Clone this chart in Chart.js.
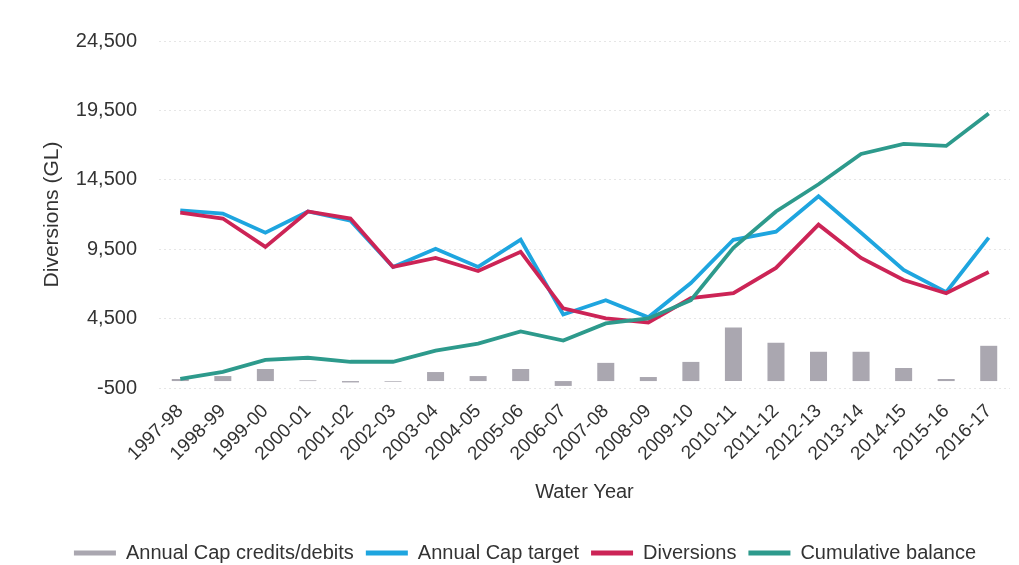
<!DOCTYPE html>
<html>
<head>
<meta charset="utf-8">
<script src="https://cdn.jsdelivr.net/npm/chart.js@4.4.1/dist/chart.umd.min.js"></script>
<style>
  html, body { margin: 0; padding: 0; background: #fff; }
  #wrap { width: 1019px; height: 565px; }
</style>
</head>
<body>
<div id="wrap"><canvas id="capChart" width="1019" height="565"></canvas></div>
<script>
// Water years on the x axis
const waterYears = [
  '1997-98', '1998-99', '1999-00', '2000-01', '2001-02', '2002-03', '2003-04',
  '2004-05', '2005-06', '2006-07', '2007-08', '2008-09', '2009-10', '2010-11',
  '2011-12', '2012-13', '2013-14', '2014-15', '2015-16', '2016-17'
];

// Values (GL)
const capCredits = [150, 360, 870, 50, -100, -50, 650, 360, 870, -350,
  1310, 290, 1380, 3850, 2760, 2110, 2110, 940, 150, 2540];
const capTarget = [12290, 12070, 10690, 12220, 11560, 8220, 9530, 8220, 10180, 4800,
  5820, 4590, 7060, 10180, 10760, 13310, 10690, 8000, 6400, 10330];
const diversions = [12140, 11710, 9670, 12220, 11710, 8220, 8870, 7930, 9310, 5240,
  4510, 4220, 5970, 6330, 8150, 11270, 8870, 7280, 6330, 7860];
const cumulative = [154, 660, 1530, 1680, 1390, 1390, 2190, 2700, 3570, 2920,
  4150, 4510, 5820, 9600, 12220, 14180, 16360, 17090, 16940, 19270];

const yMin = -500;
const yMax = 24500;
const yStep = 5000;

const Chart = window.Chart;
const FONT = "'Liberation Sans', Arial, sans-serif";

function makeChart() {
  const ctx = document.getElementById('capChart').getContext('2d');
  new Chart(ctx, {
    type: 'bar',
    data: {
      labels: waterYears,
      datasets: [
        {
          type: 'bar',
          label: 'Annual Cap credits/debits',
          data: capCredits,
          backgroundColor: '#aaa7b0',
          barPercentage: 0.4,
          categoryPercentage: 1,
          order: 4
        },
        {
          type: 'line',
          label: 'Annual Cap target',
          data: capTarget,
          borderColor: '#1ea5df',
          backgroundColor: '#1ea5df',
          borderWidth: 3.8,
          pointRadius: 0,
          tension: 0,
          order: 3
        },
        {
          type: 'line',
          label: 'Diversions',
          data: diversions,
          borderColor: '#cc2456',
          backgroundColor: '#cc2456',
          borderWidth: 3.8,
          pointRadius: 0,
          tension: 0,
          order: 2
        },
        {
          type: 'line',
          label: 'Cumulative balance',
          data: cumulative,
          borderColor: '#2d9a8c',
          backgroundColor: '#2d9a8c',
          borderWidth: 3.8,
          pointRadius: 0,
          tension: 0,
          order: 1
        }
      ]
    },
    options: {
      responsive: false,
      animation: false,
      layout: { padding: { top: 41, right: 9, bottom: -8, left: 40 } },
      plugins: {
        tooltip: { enabled: false },
        legend: {
          position: 'bottom',
          labels: {
            boxWidth: 42,
            boxHeight: 5,
            padding: 12,
            color: '#333',
            font: { family: FONT, size: 20 },
            sort: (a, b) => a.datasetIndex - b.datasetIndex,
            generateLabels: function(chart) {
              const items = Chart.defaults.plugins.legend.labels.generateLabels(chart);
              items.forEach(it => { it.lineWidth = 0; });
              return items;
            }
          }
        }
      },
      scales: {
        x: {
          grid: { display: false, drawTicks: false },
          border: { display: false },
          ticks: {
            color: '#333',
            maxRotation: 45,
            minRotation: 45,
            padding: 12,
            font: { family: FONT, size: 19 }
          },
          title: {
            display: true,
            text: 'Water Year',
            color: '#333',
            padding: { top: 6, bottom: 27 },
            font: { family: FONT, size: 20 }
          },
          afterFit: function(scale) { scale.height = 143; }
        },
        y: {
          min: yMin,
          max: yMax,
          grid: { color: '#e6e6e6', drawTicks: false },
          border: { display: false, dash: [2, 3] },
          ticks: {
            stepSize: yStep,
            color: '#333',
            padding: 22,
            font: { family: FONT, size: 20 },
            callback: function(value) {
              return value.toLocaleString('en-US');
            }
          },
          title: {
            display: true,
            text: 'Diversions (GL)',
            color: '#333',
            padding: { top: 0, bottom: 0 },
            font: { family: FONT, size: 21 }
          },
          afterFit: function(scale) { scale.width = 119; }
        }
      }
    }
  });
}

document.addEventListener('DOMContentLoaded', makeChart);
</script>
</body>
</html>
